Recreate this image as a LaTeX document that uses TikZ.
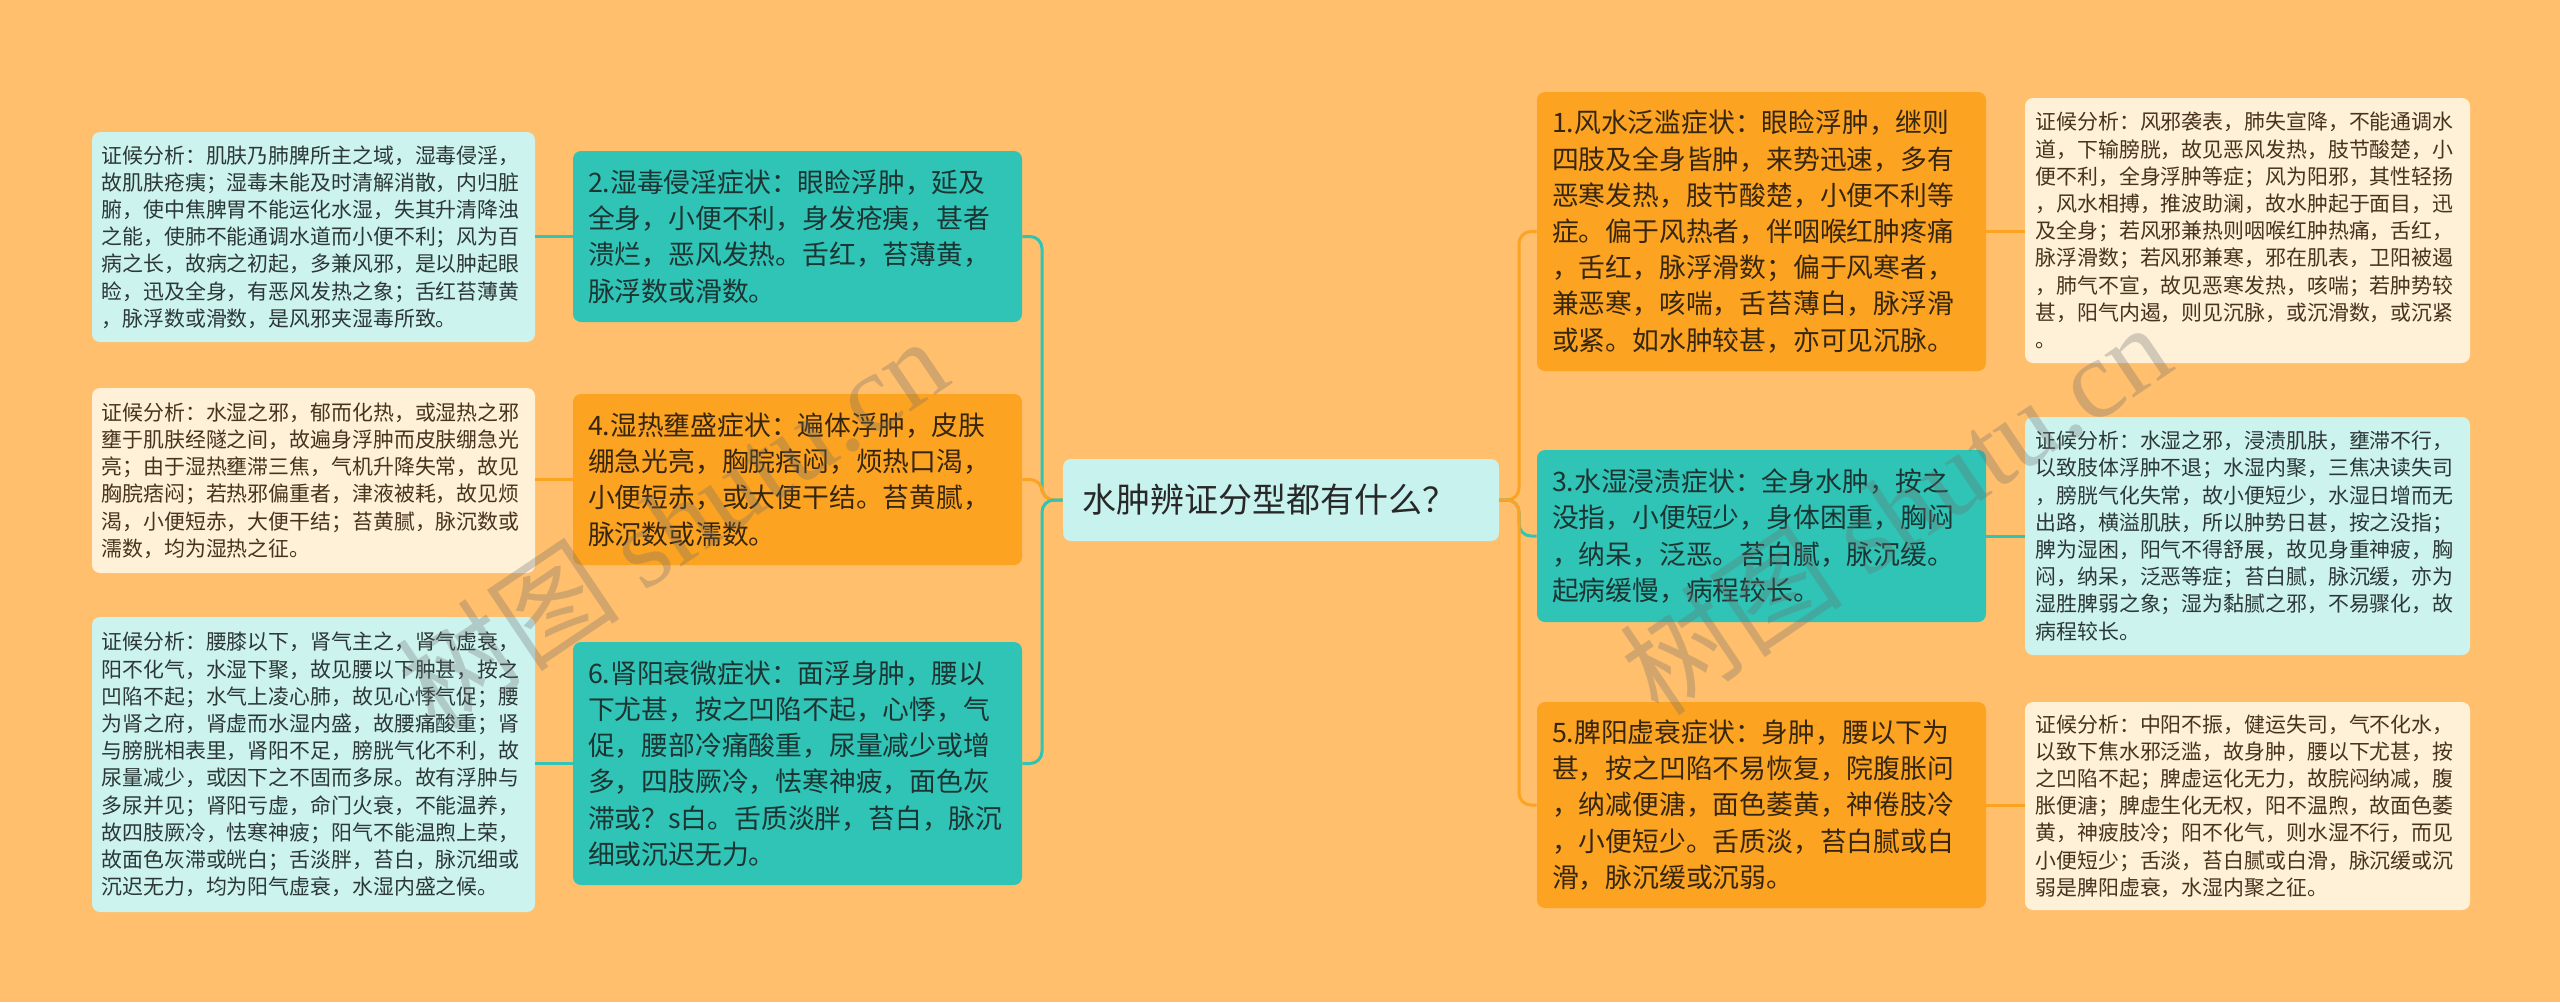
\documentclass[tikz,border=0pt]{standalone}
\usepackage{fontspec}
\setmainfont{Noto Sans CJK SC}
\newfontfamily\wmserif{Liberation Serif}
\usetikzlibrary{calc}
\definecolor{bgc}{RGB}{255,191,109}
\definecolor{orbox}{RGB}{252,163,34}
\definecolor{tlbox}{RGB}{48,196,182}
\definecolor{lcyan}{RGB}{205,243,239}
\definecolor{cream}{RGB}{255,240,216}
\definecolor{ctrbox}{RGB}{200,242,238}
\definecolor{txtdark}{RGB}{40,40,40}
\definecolor{txtteal}{RGB}{28,52,50}
\definecolor{txtor}{RGB}{55,38,14}
\definecolor{txtbrown}{RGB}{72,52,30}
\definecolor{txtcy}{RGB}{44,56,55}
\tikzset{
  boxbase/.style={rounded corners=4pt, align=left, inner xsep=0pt, inner ysep=0pt, anchor=center},
  midbox/.style={boxbase, minimum width=224.5pt, text width=209.5pt, font=\fontsize{13.4}{18.1}\selectfont},
  detbox/.style={boxbase, minimum width=221.5pt, text width=212pt, font=\fontsize{10.45}{13.6}\selectfont},
  orfill/.style={fill=orbox, text=txtor},
  tlfill/.style={fill=tlbox, text=txtteal},
  cyfill/.style={fill=lcyan, text=txtcy},
  crfill/.style={fill=cream, text=txtbrown},
  conn/.style={line width=1.5pt, rounded corners=6pt},
  wmark/.style={rotate=34, text=gray!85!black, opacity=0.3, font=\fontsize{56}{56}\selectfont}
}
\begin{document}
\begin{tikzpicture}[x=0.5pt,y=-0.5pt]
\fill[bgc] (0,0) rectangle (2560,1002);
\useasboundingbox (0,0) rectangle (2560,1002);

% center
\node[boxbase, fill=ctrbox, text=txtdark, minimum width=218pt, text width=199pt, minimum height=41pt, font=\fontsize{17}{20}\selectfont] (c) at (1281,500) {水肿辨证分型都有什么？};

% left middle boxes
\node[midbox, tlfill, minimum height=85.5pt] (b2) at (797.5,236.5) {2.湿毒侵淫症状：眼睑浮肿，延及\\全身，小便不利，身发疮痍，甚者\\溃烂，恶风发热。舌红，苔薄黄，\\脉浮数或滑数。};
\node[midbox, orfill, minimum height=85.5pt] (b4) at (797.5,479.5) {4.湿热壅盛症状：遍体浮肿，皮肤\\绷急光亮，胸脘痞闷，烦热口渴，\\小便短赤，或大便干结。苔黄腻，\\脉沉数或濡数。};
\node[midbox, tlfill, minimum height=121.5pt] (b6) at (797.5,763.5) {6.肾阳衰微症状：面浮身肿，腰以\\下尤甚，按之凹陷不起，心悸，气\\促，腰部冷痛酸重，尿量减少或增\\多，四肢厥冷，怯寒神疲，面色灰\\滞或？s白。舌质淡胖，苔白，脉沉\\细或沉迟无力。};

% left detail boxes
\node[detbox, cyfill, minimum height=105pt] (l1) at (313.5,237) {证候分析：肌肤乃肺脾所主之域，湿毒侵淫，\\故肌肤疮痍；湿毒未能及时清解消散，内归脏\\腑，使中焦脾胃不能运化水湿，失其升清降浊\\之能，使肺不能通调水道而小便不利；风为百\\病之长，故病之初起，多兼风邪，是以肿起眼\\睑，迅及全身，有恶风发热之象；舌红苔薄黄\\，脉浮数或滑数，是风邪夹湿毒所致。};
\node[detbox, crfill, minimum height=92.5pt] (l2) at (313.5,480.5) {证候分析：水湿之邪，郁而化热，或湿热之邪\\壅于肌肤经隧之间，故遍身浮肿而皮肤绷急光\\亮；由于湿热壅滞三焦，气机升降失常，故见\\胸脘痞闷；若热邪偏重者，津液被耗，故见烦\\渴，小便短赤，大便干结；苔黄腻，脉沉数或\\濡数，均为湿热之征。};
\node[detbox, cyfill, minimum height=147.5pt] (l3) at (313.5,764.5) {证候分析：腰膝以下，肾气主之，肾气虚衰，\\阳不化气，水湿下聚，故见腰以下肿甚，按之\\凹陷不起；水气上凌心肺，故见心悸气促；腰\\为肾之府，肾虚而水湿内盛，故腰痛酸重；肾\\与膀胱相表里，肾阳不足，膀胱气化不利，故\\尿量减少，或因下之不固而多尿。故有浮肿与\\多尿并见；肾阳亏虚，命门火衰，不能温养，\\故四肢厥冷，怯寒神疲；阳气不能温煦上荣，\\故面色灰滞或㿠白；舌淡胖，苔白，脉沉细或\\沉迟无力，均为阳气虚衰，水湿内盛之候。};

% right middle boxes
\node[midbox, orfill, minimum height=139.5pt] (r1) at (1761.5,231.5) {1.风水泛滥症状：眼睑浮肿，继则\\四肢及全身皆肿，来势迅速，多有\\恶寒发热，肢节酸楚，小便不利等\\症。偏于风热者，伴咽喉红肿疼痛\\，舌红，脉浮滑数；偏于风寒者，\\兼恶寒，咳喘，舌苔薄白，脉浮滑\\或紧。如水肿较甚，亦可见沉脉。};
\node[midbox, tlfill, minimum height=86pt] (r3) at (1761.5,536) {3.水湿浸渍症状：全身水肿，按之\\没指，小便短少，身体困重，胸闷\\，纳呆，泛恶。苔白腻，脉沉缓。\\起病缓慢，病程较长。};
\node[midbox, orfill, minimum height=103pt] (r5) at (1761.5,805) {5.脾阳虚衰症状：身肿，腰以下为\\甚，按之凹陷不易恢复，院腹胀问\\，纳减便溏，面色萎黄，神倦肢冷\\，小便短少。舌质淡，苔白腻或白\\滑，脉沉缓或沉弱。};

% right detail boxes
\node[detbox, crfill, minimum width=222.5pt, minimum height=132.5pt] (d1) at (2247.5,230.5) {证候分析：风邪袭表，肺失宣降，不能通调水\\道，下输膀胱，故见恶风发热，肢节酸楚，小\\便不利，全身浮肿等症；风为阳邪，其性轻扬\\，风水相搏，推波助澜，故水肿起于面目，迅\\及全身；若风邪兼热则咽喉红肿热痛，舌红，\\脉浮滑数；若风邪兼寒，邪在肌表，卫阳被遏\\，肺气不宣，故见恶寒发热，咳喘；若肿势较\\甚，阳气内遏，则见沉脉，或沉滑数，或沉紧\\。};
\node[detbox, cyfill, minimum width=222.5pt, minimum height=119pt] (d3) at (2247.5,536) {证候分析：水湿之邪，浸渍肌肤，壅滞不行，\\以致肢体浮肿不退；水湿内聚，三焦决读失司\\，膀胱气化失常，故小便短少，水湿日增而无\\出路，横溢肌肤，所以肿势日甚，按之没指；\\脾为湿困，阳气不得舒展，故见身重神疲，胸\\闷，纳呆，泛恶等症；苔白腻，脉沉缓，亦为\\湿胜脾弱之象；湿为黏腻之邪，不易骤化，故\\病程较长。};
\node[detbox, crfill, minimum width=222.5pt, minimum height=104pt] (d5) at (2247.5,806) {证候分析：中阳不振，健运失司，气不化水，\\以致下焦水邪泛滥，故身肿，腰以下尤甚，按\\之凹陷不起；脾虚运化无力，故脘闷纳减，腹\\胀便溏；脾虚生化无权，阳不温煦，故面色萎\\黄，神疲肢冷；阳不化气，则水湿不行，而见\\小便短少；舌淡，苔白腻或白滑，脉沉缓或沉\\弱是脾阳虚衰，水湿内聚之征。};

% bus coordinates
\coordinate (busL) at (1042,500);
\coordinate (busR) at (1519,500);

% connectors center -> middle
\draw[conn, tlbox] (c.west) -- (busL) |- (b2.east);
\draw[conn, orbox] (c.west) -- (busL) |- (b4.east);
\draw[conn, tlbox] (c.west) -- (busL) |- (b6.east);
\draw[conn, orbox] (c.east) -- (busR) |- (r1.west);
\draw[conn, tlbox] (c.east) -- (busR) |- (r3.west);
\draw[conn, orbox] (c.east) -- (busR) |- (r5.west);

% connectors middle -> detail
\draw[conn, tlbox] (b2.west) -- (b2.west -| l1.east);
\draw[conn, orbox] (b4.west) -- (b4.west -| l2.east);
\draw[conn, tlbox] (b6.west) -- (b6.west -| l3.east);
\draw[conn, orbox] (r1.east) -- (r1.east -| d1.west);
\draw[conn, tlbox] (r3.east) -- (r3.east -| d3.west);
\draw[conn, orbox] (r5.east) -- (r5.east -| d5.west);

% watermarks
\node[wmark] (wm1) at (672,522) {树图 {\wmserif shutu.cn}};
\node[wmark] (wm2) at (1895,508) {树图 {\wmserif shutu.cn}};
\end{tikzpicture}
\end{document}
